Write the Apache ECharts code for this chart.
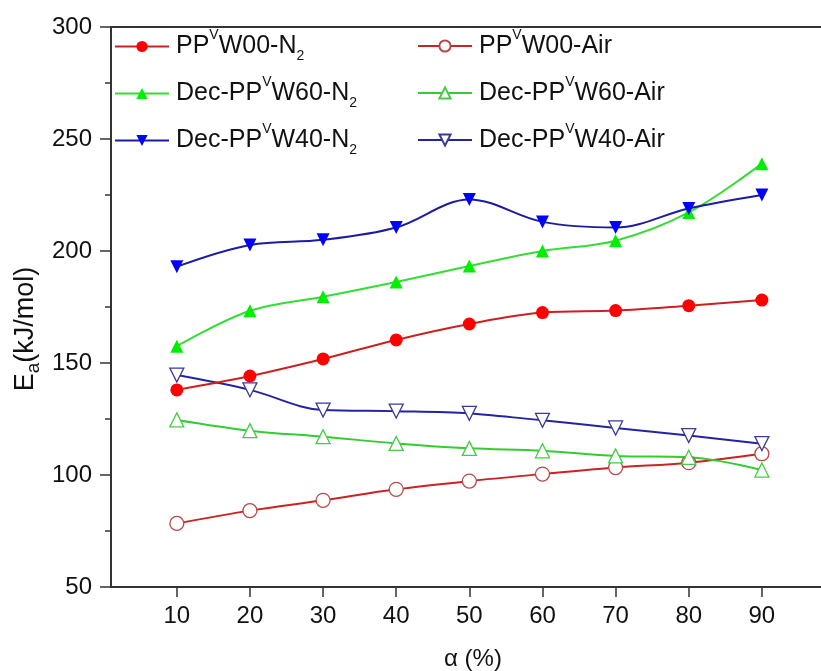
<!DOCTYPE html>
<html lang="en">
<head>
    <meta charset="UTF-8">
    <title>Ea vs alpha</title>
    <script src="https://cdn.jsdelivr.net/npm/echarts@6/dist/echarts.min.js"></script>
    <style>
        body { margin: 0; background: #fff; }
    </style>
</head>
<body>
<div id="main" style="width: 821px;height:671px;"></div>

<script type="text/javascript">
    // conversion degree alpha (%)
    var alpha = [10, 20, 30, 40, 50, 60, 70, 80, 90];
    var xTicks = [10, 20, 30, 40, 50, 60, 70, 80, 90];

    // activation energy Ea (kJ/mol)
    var w00N2 = [138, 144.2, 151.8, 160.3, 167.4, 172.5, 173.4, 175.6, 178.1];
    var w60N2 = [157.5, 173.3, 179.6, 186.2, 193.3, 200, 204.6, 217.2, 239];
    var w40N2 = [193, 202.7, 205, 210.5, 223, 213, 210.5, 219, 225];
    var w00Air = [78.4, 84.1, 88.7, 93.6, 97.3, 100.4, 103.3, 105.5, 109.5];
    var w60Air = [124.6, 119.8, 117.1, 114.1, 111.9, 110.8, 108.5, 107.9, 102.2];
    var w40Air = [144.6, 138, 129, 128.5, 127.5, 124.4, 121, 117.6, 114];

    var font = 'Liberation Sans, Arial, sans-serif';

    function pairs(ys) {
        var out = [];
        for (var i = 0; i < alpha.length; i++) {
            out.push([alpha[i], ys[i]]);
        }
        return out;
    }

    // legend name -> rich text with superscript V and subscript 2
    var names = {
        'PPVW00-N2': '{t|PP}{sup|V}{t|W00-N}{sub|2}',
        'Dec-PPVW60-N2': '{t|Dec-PP}{sup|V}{t|W60-N}{sub|2}',
        'Dec-PPVW40-N2': '{t|Dec-PP}{sup|V}{t|W40-N}{sub|2}',
        'PPVW00-Air': '{t|PP}{sup|V}{t|W00-Air}',
        'Dec-PPVW60-Air': '{t|Dec-PP}{sup|V}{t|W60-Air}',
        'Dec-PPVW40-Air': '{t|Dec-PP}{sup|V}{t|W40-Air}'
    };

    var richLegend = {
        t: { fontSize: 25, fontFamily: font, color: '#111', lineHeight: 36, verticalAlign: 'middle' },
        sup: { fontSize: 14, fontFamily: font, color: '#111', lineHeight: 36, verticalAlign: 'top', padding: [0, 0, 0, 0] },
        sub: { fontSize: 14, fontFamily: font, color: '#111', lineHeight: 36, verticalAlign: 'bottom', padding: [0, 0, 1, 0] }
    };

    function makeSeries(name, ys, symbol, markColor, lineColor, empty) {
        return {
            name: name,
            type: 'line',
            data: pairs(ys),
            smooth: 0.35,
            symbol: symbol,
            symbolSize: empty ? 14 : 13,
            showAllSymbol: true,
            lineStyle: { color: lineColor, width: 2 },
            itemStyle: empty
                ? { color: '#fff', borderColor: markColor, borderWidth: 1.3 }
                : { color: markColor, borderWidth: 0 },
            z: empty ? 2 : 3,
            animation: false
        };
    }

    var downTri = 'path://M0,0 L20,0 L10,17 Z';
    var upTri = 'path://M10,0 L20,17 L0,17 Z';

    var series = [
        makeSeries('PPVW00-N2', w00N2, 'circle', '#ff0000', '#cc2020', false),
        makeSeries('Dec-PPVW60-N2', w60N2, upTri, '#00ee00', '#33dd33', false),
        makeSeries('Dec-PPVW40-N2', w40N2, downTri, '#0000ff', '#1c1ca0', false),
        makeSeries('PPVW00-Air', w00Air, 'circle', '#b84848', '#cc2222', true),
        makeSeries('Dec-PPVW60-Air', w60Air, upTri, '#44cc44', '#33cc33', true),
        makeSeries('Dec-PPVW40-Air', w40Air, downTri, '#3a3a98', '#2424a0', true)
    ];

    var myChart = echarts.init(document.getElementById('main'));

    var legendBase = {
        orient: 'vertical',
        padding: 0,
        itemWidth: 54,
        itemHeight: 14,
        formatter: function (n) { return names[n]; },
        textStyle: { rich: richLegend, padding: [0, 0, 0, 2] }
    };

    var option = {
        backgroundColor: '#fff',
        animation: false,
        grid: {
            left: 111, width: 724, top: 27, bottom: 84,
            outerBoundsMode: 'none',
            containLabel: false,
            show: true, borderColor: '#333', borderWidth: 2, backgroundColor: 'transparent'
        },
        legend: [
            Object.assign({}, legendBase, {
                left: 114, top: 28.5, itemGap: 11,
                data: ['PPVW00-N2', 'Dec-PPVW60-N2', 'Dec-PPVW40-N2']
            }),
            Object.assign({}, legendBase, {
                left: 417, top: 28, itemGap: 16.5,
                data: ['PPVW00-Air', 'Dec-PPVW60-Air', 'Dec-PPVW40-Air']
            })
        ],
        xAxis: {
            type: 'value',
            min: 1,
            max: 100,
            name: 'α (%)',
            nameLocation: 'middle',
            nameGap: 60,
            nameTextStyle: { fontSize: 24, fontFamily: font, color: '#111' },
            axisLine: { lineStyle: { color: '#333', width: 2 } },
            axisTick: { show: true, inside: false, length: 10, customValues: xTicks, lineStyle: { color: '#333', width: 1.5 } },
            axisLabel: { customValues: xTicks, fontSize: 24, fontFamily: font, color: '#111', margin: 17 },
            splitLine: { show: false }
        },
        yAxis: {
            type: 'value',
            min: 50,
            max: 300,
            interval: 50,
            axisLine: { show: true, lineStyle: { color: '#333', width: 2 } },
            axisTick: { show: true, inside: false, length: 11, lineStyle: { color: '#333', width: 1.5 } },
            minorTick: { show: true, splitNumber: 2, length: 6, lineStyle: { color: '#333', width: 1.5 } },
            axisLabel: { fontSize: 24, fontFamily: font, color: '#111', margin: 19 },
            splitLine: { show: false }
        },
        graphic: [{
            type: 'text',
            x: 26,
            y: 329,
            rotation: Math.PI / 2,
            style: {
                text: '{t|E}{sub|a}{t|(kJ/mol)}',
                align: 'center',
                verticalAlign: 'middle',
                rich: {
                    t: { fontSize: 27, fontFamily: font, fill: '#111', lineHeight: 34, verticalAlign: 'middle' },
                    sub: { fontSize: 19, fontFamily: font, fill: '#111', lineHeight: 34, verticalAlign: 'bottom' }
                }
            }
        }],
        series: series
    };

    myChart.setOption(option);
</script>
</body>
</html>
